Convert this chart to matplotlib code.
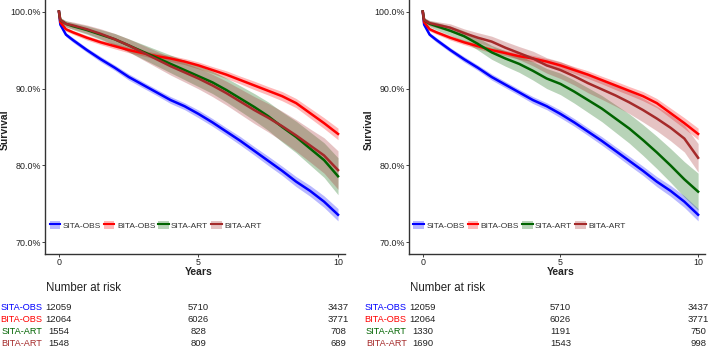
import matplotlib
matplotlib.use("Agg")
import matplotlib.pyplot as plt
from matplotlib.lines import Line2D
from matplotlib.patches import Patch
from matplotlib.transforms import blended_transform_factory

plt.rcParams['font.family'] = ['Liberation Sans', 'DejaVu Sans']

# survival estimates (%)
years = [0, 0.05, 0.25, 0.5, 1, 1.5, 2, 2.5, 3, 3.5, 4, 4.5, 5, 5.5, 6, 6.5, 7, 7.5, 8, 8.5, 9, 9.5, 10]

sita_obs = [100, 98.3, 97.0, 96.3, 95.0, 93.8, 92.7, 91.5, 90.5, 89.5, 88.5, 87.7, 86.7, 85.6, 84.4, 83.2, 81.9, 80.6, 79.3, 77.9, 76.7, 75.3, 73.6]
bita_obs = [100, 98.6, 97.7, 97.3, 96.6, 96.0, 95.5, 95.0, 94.6, 94.2, 93.9, 93.5, 93.0, 92.4, 91.8, 91.1, 90.4, 89.7, 89.0, 88.1, 86.8, 85.5, 84.1]
sita_art_l = [100, 98.9, 98.4, 98.1, 97.6, 97.0, 96.4, 95.6, 94.8, 94.0, 93.2, 92.4, 91.6, 90.8, 89.8, 88.7, 87.6, 86.4, 85.0, 83.7, 82.2, 80.7, 78.6]
bita_art_l = [100, 98.9, 98.4, 98.2, 97.7, 97.1, 96.4, 95.6, 94.7, 93.8, 92.9, 92.1, 91.3, 90.4, 89.4, 88.3, 87.2, 86.2, 85.1, 83.9, 82.6, 81.3, 79.4]
sita_art_r = [100, 98.9, 98.4, 98.1, 97.5, 96.8, 95.8, 94.7, 93.9, 93.2, 92.3, 91.3, 90.6, 89.6, 88.5, 87.4, 86.1, 84.8, 83.3, 81.7, 80.0, 78.2, 76.6]
bita_art_r = [100, 98.9, 98.5, 98.3, 97.9, 97.2, 96.6, 96.1, 95.3, 94.6, 93.9, 93.0, 92.4, 91.6, 90.7, 89.9, 89.1, 88.2, 87.2, 86.1, 84.9, 83.5, 81.0]

# half widths of the confidence bands
sita_obs_ci = [0, 0.2, 0.25, 0.3, 0.3, 0.35, 0.35, 0.4, 0.4, 0.4, 0.45, 0.45, 0.5, 0.5, 0.5, 0.55, 0.55, 0.6, 0.6, 0.65, 0.7, 0.75, 0.8]
bita_obs_ci = [0, 0.2, 0.25, 0.25, 0.3, 0.3, 0.35, 0.35, 0.35, 0.4, 0.4, 0.4, 0.45, 0.45, 0.5, 0.5, 0.55, 0.55, 0.6, 0.6, 0.65, 0.7, 0.75]
sita_art_l_ci = [0, 0.3, 0.4, 0.45, 0.55, 0.65, 0.75, 0.85, 0.95, 1.05, 1.15, 1.25, 1.35, 1.45, 1.55, 1.65, 1.75, 1.85, 1.95, 2.05, 2.15, 2.25, 2.4]
bita_art_l_ci = [0, 0.3, 0.4, 0.45, 0.55, 0.65, 0.75, 0.85, 0.95, 1.05, 1.15, 1.25, 1.35, 1.45, 1.55, 1.65, 1.75, 1.85, 1.95, 2.05, 2.15, 2.3, 2.5]
sita_art_r_ci = [0, 0.3, 0.4, 0.5, 0.6, 0.7, 0.8, 0.9, 1.0, 1.1, 1.2, 1.3, 1.4, 1.5, 1.6, 1.7, 1.8, 1.9, 2.0, 2.1, 2.2, 2.3, 2.4]
bita_art_r_ci = [0, 0.3, 0.35, 0.4, 0.5, 0.55, 0.65, 0.7, 0.8, 0.85, 0.95, 1.0, 1.1, 1.15, 1.25, 1.3, 1.4, 1.45, 1.55, 1.6, 1.7, 1.75, 1.85]

groups = ["SITA-OBS", "BITA-OBS", "SITA-ART", "BITA-ART"]
colors = ["#0000FF", "#FF0000", "#006400", "#A52A2A"]

risk_times = [0, 5, 10]
risk_left = [[12059, 5710, 3437], [12064, 6026, 3771], [1554, 828, 708], [1548, 809, 689]]
risk_right = [[12059, 5710, 3437], [12064, 6026, 3771], [1330, 1191, 750], [1690, 1543, 998]]

panels = [
    ([sita_obs, bita_obs, sita_art_l, bita_art_l],
     [sita_obs_ci, bita_obs_ci, sita_art_l_ci, bita_art_l_ci], risk_left),
    ([sita_obs, bita_obs, sita_art_r, bita_art_r],
     [sita_obs_ci, bita_obs_ci, sita_art_r_ci, bita_art_r_ci], risk_right),
]

W, H = 709, 349
fig = plt.figure(figsize=(W / 100, H / 100), dpi=100)
ax_boxes = [(45, 300), (409, 296)]

for (curves, cis, risk), (x0, w) in zip(panels, ax_boxes):
    ax = fig.add_axes([x0 / W, 1 - 254 / H, w / W, 254 / H])
    for surv, ci, col in zip(curves, cis, colors):
        lo = [s - c for s, c in zip(surv, ci)]
        hi = [s + c for s, c in zip(surv, ci)]
        ax.fill_between(years, lo, hi, color=col, alpha=0.28, lw=0)
        ax.plot(years, surv, color=col, lw=1.8)
    ax.set_xlim(-0.5, 10.25)
    ax.set_ylim(68.5, 101.5)
    ax.set_yticks([70, 80, 90, 100])
    ax.set_yticklabels(["70.0%", "80.0%", "90.0%", "100.0%"])
    ax.set_xticks([0, 5, 10])
    ax.tick_params(labelsize=6.4, length=2, width=0.6, pad=0.8, colors="#222222")
    for s in ["top", "right"]:
        ax.spines[s].set_visible(False)
    for s in ["left", "bottom"]:
        ax.spines[s].set_linewidth(1.0)
        ax.spines[s].set_color("#333333")

    handles = [(Patch(facecolor=c, alpha=0.28, lw=0), Line2D([], [], color=c, lw=1.5))
               for c in colors]
    ax.legend(handles, groups, loc="center left", bbox_to_anchor=(0.015, 0.114),
              ncol=4, frameon=False, fontsize=6, handlelength=1.3, handleheight=1.2,
              handletextpad=0.3, columnspacing=0.3, borderaxespad=0, borderpad=0,
              labelcolor="#333333")

    tr = blended_transform_factory(ax.transData, fig.transFigure)
    tra = blended_transform_factory(ax.transAxes, fig.transFigure)
    ax.text(5, 1 - 272 / H, "Years", transform=tr, ha="center", va="center",
            fontsize=7.5, fontweight="bold", color="#222222")
    fig.text((x0 - 40) / W, 1 - 130 / H, "Survival", rotation=90, ha="center", va="center",
             fontsize=7.5, fontweight="bold", color="#222222")
    ax.text(0.003, 1 - 288 / H, "Number at risk", transform=tra, ha="left", va="center",
            fontsize=8.3, color="#222222")
    row_y = [307, 319.5, 331.5, 344]
    for g, col, counts, yy in zip(groups, colors, risk, row_y):
        ax.text(-0.008, 1 - yy / H, g, transform=tra, ha="right", va="center",
                fontsize=6.6, color=col)
        for t, n in zip(risk_times, counts):
            ax.text(t, 1 - yy / H, str(n), transform=tr, ha="center", va="center",
                    fontsize=6.8, color="#222222")

fig.savefig("out.png", dpi=100)
